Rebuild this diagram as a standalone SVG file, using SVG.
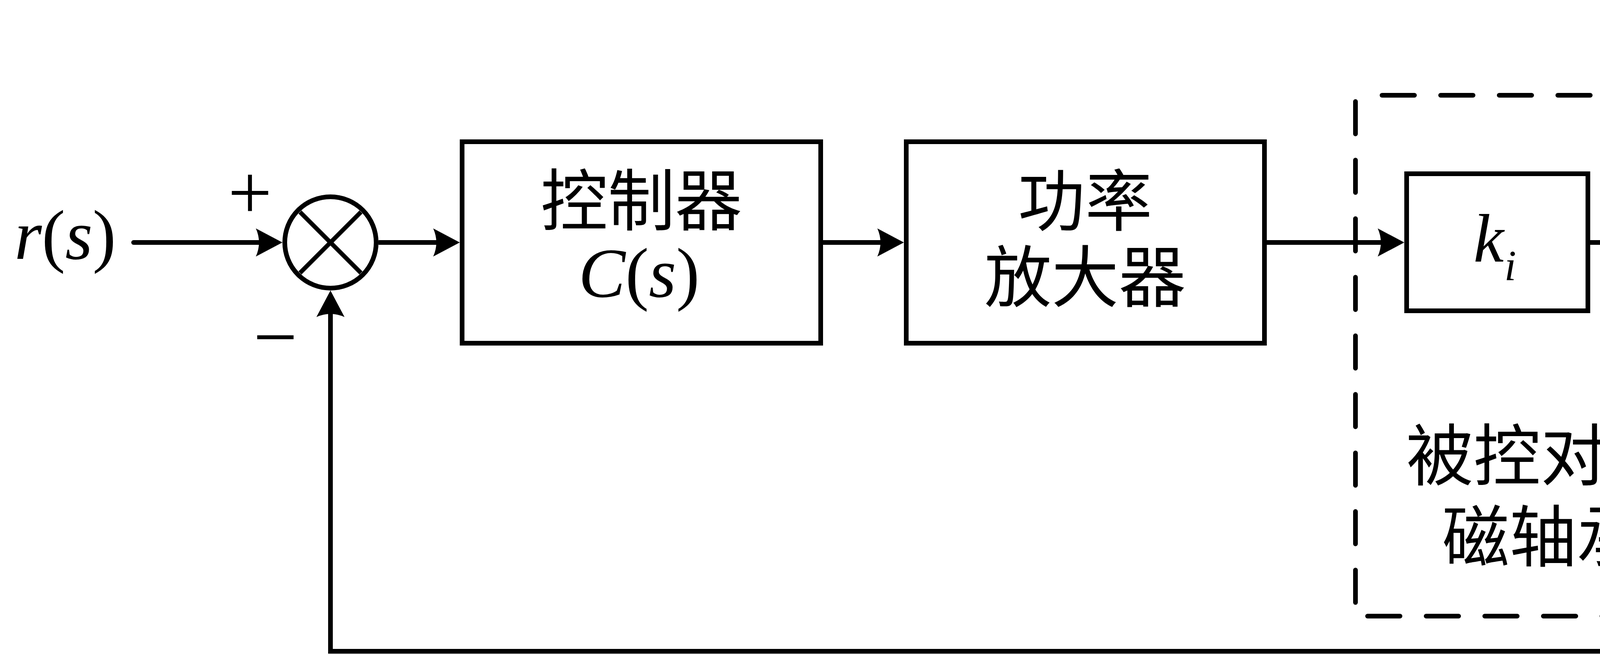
<svg xmlns="http://www.w3.org/2000/svg" width="6363" height="1675" viewBox="0 0 6363 1675">
<style>
.ln{fill:none;stroke:#000;stroke-width:12;stroke-linejoin:miter}
.box{fill:#fff;stroke:#000;stroke-width:12}
.sum{fill:#fff;stroke:#000;stroke-width:12}
.x{stroke:#000;stroke-width:11}
.dash{fill:none;stroke:#000;stroke-width:12;stroke-dasharray:83 67;stroke-linecap:round}
.m{font-family:"Liberation Serif","Times New Roman",serif;fill:#000}
.i{font-style:italic}
.sg{font-family:"Liberation Serif","Times New Roman",serif;font-size:200px;text-anchor:middle;fill:#000}
.cn{font-family:"Liberation Serif","Noto Sans CJK SC",serif;font-size:172px;text-anchor:middle;fill:#000}
</style>
<defs>
<marker id="ah" viewBox="-70 -40 80 80" refX="-58" refY="0" markerWidth="80" markerHeight="80" orient="auto" markerUnits="userSpaceOnUse" overflow="visible">
<path d="M0,0 L-68,-36 Q-52,0 -68,36 Z" fill="#000"/>
</marker>
</defs>
<rect x="0" y="0" width="6363" height="1675" fill="#fff"/>

<g id="plant-boundary">
<path class="dash" d="M3538,244 H5567"/>
<path class="dash" d="M3501,1578 H5540"/>
<path class="dash" d="M3470,260 V1544"/>
<path class="dash" d="M5595,287 V1574"/>
<text class="cn" x="3944" y="1229">被控对象</text>
<text class="cn" x="3950" y="1437">磁轴承</text>
</g>

<g id="connectors">
<path class="ln" style="stroke-linecap:round" d="M342,621 H665" marker-end="url(#ah)"/>
<path class="ln" d="M969,621 H1119" marker-end="url(#ah)"/>
<path class="ln" d="M2107,621 H2256" marker-end="url(#ah)"/>
<path class="ln" d="M3243,621 H3537" marker-end="url(#ah)"/>
<path class="ln" d="M4071,621 H4281" marker-end="url(#ah)"/>
<path class="ln" style="stroke-linecap:round" d="M4462,147 V440" marker-end="url(#ah)"/>
<path class="ln" d="M4585,621 H4744" marker-end="url(#ah)"/>
<path class="ln" d="M5479,621 H5950" marker-end="url(#ah)"/>
<path class="ln" d="M5714,621 V1668 H846 V802" marker-end="url(#ah)"/>
<path class="ln" d="M5714,1309 H5380"/>
<path class="ln" d="M4902,1309 H4462 V802" marker-end="url(#ah)"/>
</g>

<g id="sum1">
<circle class="sum" cx="846" cy="621" r="117"/>
<line class="x" x1="768" y1="543" x2="924" y2="699"/>
<line class="x" x1="924" y1="543" x2="768" y2="699"/>
<text class="sg" x="640" y="560">+</text>
<text class="sg" x="705" y="930">−</text>
</g>

<g id="controller">
<rect class="box" x="1183" y="363" width="918" height="516"/>
<text class="cn" x="1642" y="576">控制器</text>
<text class="m" x="1636" y="760" font-size="180" text-anchor="middle"><tspan class="i">C</tspan>(<tspan class="i">s</tspan>)</text>
</g>

<g id="amplifier">
<rect class="box" x="2320" y="363" width="917" height="516"/>
<text class="cn" x="2778" y="577">功率</text>
<text class="cn" x="2778" y="772">放大器</text>
</g>

<g id="ki">
<rect class="box" x="3601" y="445" width="464" height="351"/>
<text class="m i" font-size="175"><tspan x="3772" y="670">k</tspan><tspan x="3851" y="717" font-size="110">i</tspan></text>
</g>

<g id="sum2">
<circle class="sum" cx="4462" cy="621" r="117"/>
<line class="x" x1="4384" y1="543" x2="4540" y2="699"/>
<line class="x" x1="4540" y1="543" x2="4384" y2="699"/>
<text class="sg" x="4265" y="591">+</text>
<text class="sg" x="4616" y="435">+</text>
<text class="sg" x="4371" y="929">−</text>
</g>

<g id="plant">
<rect class="box" x="4808" y="386" width="665" height="471"/>
<text class="m" x="5139" y="555" font-size="170" text-anchor="middle">1</text>
<line x1="4987" y1="624" x2="5290" y2="624" stroke="#000" stroke-width="9"/>
<text class="m" font-size="170"><tspan class="i" x="5000" y="810">ms</tspan><tspan x="5203" y="724" font-size="100">2</tspan></text>
</g>

<g id="ks">
<rect class="box" x="4908" y="1132" width="466" height="354"/>
<text class="m" font-size="175"><tspan x="5026" y="1357">−</tspan><tspan class="i" x="5128" y="1357">k</tspan><tspan class="i" x="5196" y="1404" font-size="105">s</tspan></text>
</g>

<g id="label-r">
<text class="m" x="167" y="663" font-size="180" text-anchor="middle"><tspan class="i">r</tspan>(<tspan class="i">s</tspan>)</text>
</g>
<g id="label-d">
<text class="m" x="4713" y="172" font-size="180" text-anchor="middle"><tspan class="i">d</tspan>(<tspan class="i">s</tspan>)</text>
</g>
<g id="label-x">
<text class="m" x="6181" y="662" font-size="180" text-anchor="middle"><tspan class="i">x</tspan>(<tspan class="i">s</tspan>)</text>
</g>
</svg>
